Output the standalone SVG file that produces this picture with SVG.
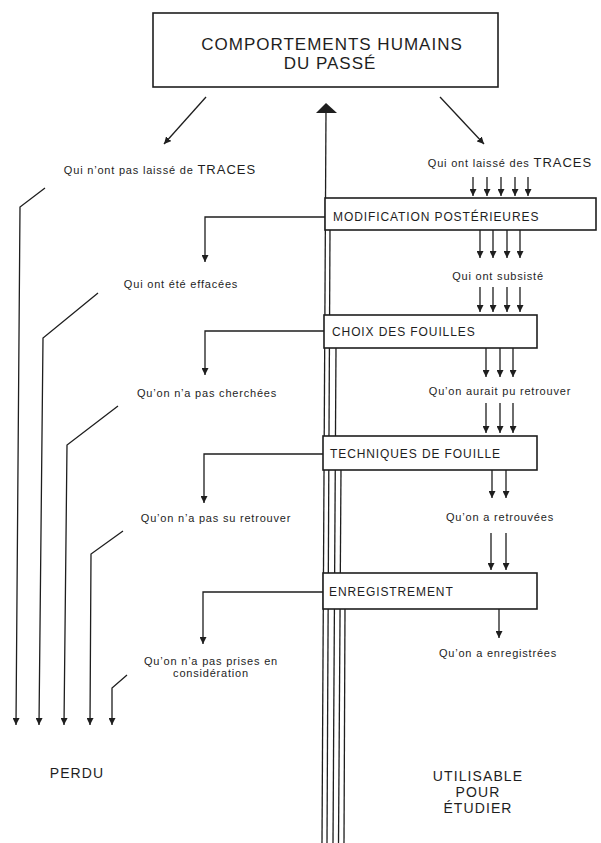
<svg xmlns="http://www.w3.org/2000/svg" width="601" height="843" viewBox="0 0 601 843">
<style>
  text { font-family: "Liberation Sans", Arial, sans-serif; fill: #1e1e1e; }
  .t { font-size: 11px; letter-spacing: 0.8px; text-anchor: middle; }
  .big { font-size: 13px; letter-spacing: 1px; }
  .bx { font-size: 12px; letter-spacing: 0.9px; }
  .hd { font-size: 17px; letter-spacing: 1px; text-anchor: middle; }
  .end { font-size: 14px; letter-spacing: 1.1px; text-anchor: middle; }
  .box { fill: #fff; stroke: #1e1e1e; stroke-width: 1.6; }
  .ln { fill: none; stroke: #1e1e1e; stroke-width: 1.3; }
  .ar { fill: none; stroke: #1e1e1e; stroke-width: 1.3; marker-end: url(#ah); }
</style>
<defs>
  <marker id="ah" markerUnits="userSpaceOnUse" markerWidth="8" markerHeight="7" refX="7" refY="3.5" orient="auto">
    <path d="M0,0 L7,3.5 L0,7 z" fill="#1e1e1e"/>
  </marker>
</defs>
<rect width="601" height="843" fill="#fff"/>

<g id="connectors">
  <!-- from top box -->
  <line class="ar" x1="206" y1="97" x2="164" y2="144"/>
  <line class="ar" x1="440" y1="97" x2="484" y2="144"/>
  <!-- central bundle -->
  <line class="ln" x1="326" y1="110" x2="322" y2="843"/>
  <polygon points="326,103 337,113 316,113" fill="#1e1e1e"/>
  <line class="ln" x1="330" y1="230" x2="327" y2="843"/>
  <line class="ln" x1="336" y1="348" x2="333" y2="843"/>
  <line class="ln" x1="341" y1="470" x2="338.5" y2="843"/>
  <line class="ln" x1="345" y1="609" x2="344" y2="843"/>
  <!-- traces into modification -->
  <line class="ar" x1="473" y1="177" x2="473" y2="196"/>
  <line class="ar" x1="487" y1="177" x2="487" y2="196"/>
  <line class="ar" x1="501" y1="177" x2="501" y2="196"/>
  <line class="ar" x1="515" y1="177" x2="515" y2="196"/>
  <line class="ar" x1="528" y1="177" x2="528" y2="196"/>
  <!-- modification -> subsiste -->
  <line class="ar" x1="480" y1="230" x2="480" y2="258"/>
  <line class="ar" x1="493" y1="230" x2="493" y2="258"/>
  <line class="ar" x1="507" y1="230" x2="507" y2="258"/>
  <line class="ar" x1="520" y1="230" x2="520" y2="258"/>
  <line class="ar" x1="480" y1="287" x2="480" y2="312"/>
  <line class="ar" x1="493" y1="287" x2="493" y2="312"/>
  <line class="ar" x1="507" y1="287" x2="507" y2="312"/>
  <line class="ar" x1="520" y1="287" x2="520" y2="312"/>
  <!-- choix -> aurait pu -->
  <line class="ar" x1="486" y1="348" x2="486" y2="377"/>
  <line class="ar" x1="500" y1="348" x2="500" y2="377"/>
  <line class="ar" x1="513" y1="348" x2="513" y2="377"/>
  <line class="ar" x1="486" y1="403" x2="486" y2="433"/>
  <line class="ar" x1="500" y1="403" x2="500" y2="433"/>
  <line class="ar" x1="513" y1="403" x2="513" y2="433"/>
  <!-- techniques -> retrouvees -->
  <line class="ar" x1="492" y1="470" x2="492" y2="498"/>
  <line class="ar" x1="506" y1="470" x2="506" y2="498"/>
  <line class="ar" x1="491" y1="533" x2="491" y2="570"/>
  <line class="ar" x1="506" y1="533" x2="506" y2="570"/>
  <!-- enregistrement -> enregistrees -->
  <line class="ar" x1="499" y1="609" x2="499" y2="638"/>
  <!-- left branches from boxes -->
  <polyline class="ar" points="325,217 205,217 205,262"/>
  <polyline class="ar" points="324,331 205,331 205,375"/>
  <polyline class="ar" points="323,454 204,454 204,503"/>
  <polyline class="ar" points="323,592 203,592 203,644"/>
  <!-- to PERDU -->
  <polyline class="ar" points="45,188 20,207 16,725"/>
  <polyline class="ar" points="98,293 43,338 39,725"/>
  <polyline class="ar" points="118,406 67,445 64,725"/>
  <polyline class="ar" points="123,531 91,554 90,725"/>
  <polyline class="ar" points="127,675 112,688 112,725"/>
</g>

<g id="n-comportements">
  <rect class="box" x="153" y="13" width="345" height="74"/>
  <text class="hd" x="332" y="50">COMPORTEMENTS HUMAINS</text>
  <text class="hd" x="330" y="69">DU PASSÉ</text>
</g>

<g id="n-pas-traces">
  <text class="t" x="160" y="174">Qui n’ont pas laissé de <tspan class="big">TRACES</tspan></text>
</g>
<g id="n-traces">
  <text class="t" x="510" y="167">Qui ont laissé des <tspan class="big">TRACES</tspan></text>
</g>

<g id="n-modification">
  <rect class="box" x="325" y="198" width="271" height="32"/>
  <text class="bx" x="333" y="221">MODIFICATION POSTÉRIEURES</text>
</g>
<g id="n-effacees"><text class="t" x="181" y="288">Qui ont été  effacées</text></g>
<g id="n-subsiste"><text class="t" x="498" y="280">Qui ont subsisté</text></g>

<g id="n-choix">
  <rect class="box" x="324" y="315" width="213" height="33"/>
  <text class="bx" x="332" y="336">CHOIX DES FOUILLES</text>
</g>
<g id="n-cherchees"><text class="t" x="207" y="397">Qu’on n’a pas cherchées</text></g>
<g id="n-aurait"><text class="t" x="500" y="395">Qu’on aurait pu retrouver</text></g>

<g id="n-techniques">
  <rect class="box" x="323" y="436" width="214" height="34"/>
  <text class="bx" x="330" y="458">TECHNIQUES DE FOUILLE</text>
</g>
<g id="n-su"><text class="t" x="216" y="522">Qu’on n’a pas su  retrouver</text></g>
<g id="n-retrouvees"><text class="t" x="500" y="521">Qu’on a retrouvées</text></g>

<g id="n-enregistrement">
  <rect class="box" x="323" y="573" width="214" height="36"/>
  <text class="bx" x="329" y="596">ENREGISTREMENT</text>
</g>
<g id="n-prises">
  <text class="t" x="211" y="665">Qu’on n’a pas prises en</text>
  <text class="t" x="211" y="677">considération</text>
</g>
<g id="n-enregistrees"><text class="t" x="498" y="657">Qu’on a enregistrées</text></g>

<g id="n-perdu"><text class="end" x="77" y="778">PERDU</text></g>
<g id="n-utilisable">
  <text class="end" x="478" y="781">UTILISABLE</text>
  <text class="end" x="478" y="797">POUR</text>
  <text class="end" x="478" y="813">ÉTUDIER</text>
</g>
</svg>
